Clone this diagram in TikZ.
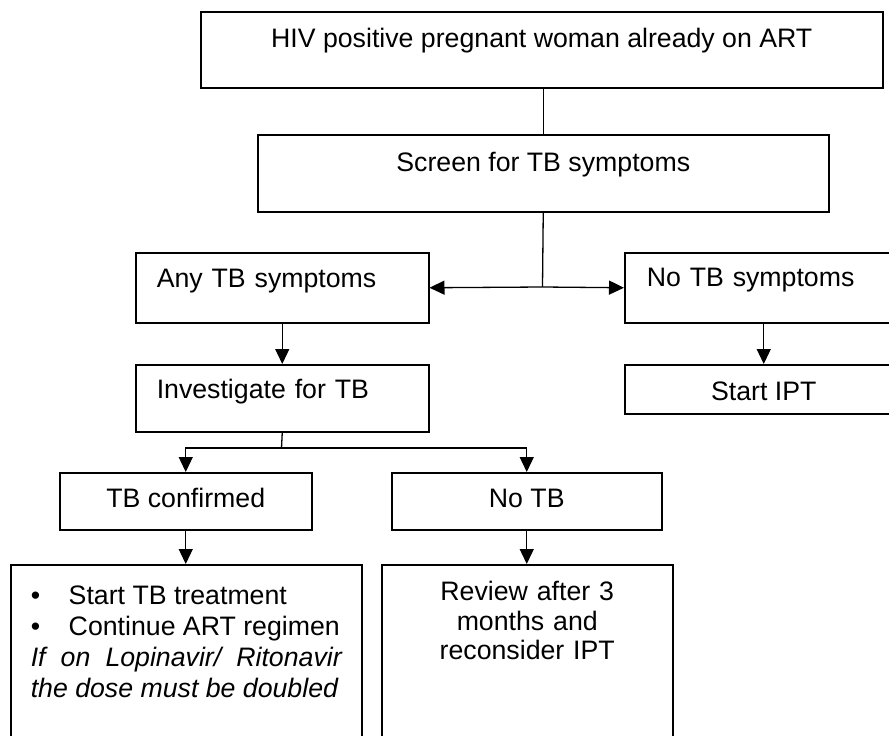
\documentclass[tikz,border=0pt]{standalone}
\usepackage{fontspec}
\setmainfont{Liberation Sans}
\usetikzlibrary{arrows.meta}
\newcommand{\boxfont}{\fontsize{26.7}{31}\selectfont}
\tikzset{
  box/.style={draw, line width=1.5pt, inner sep=0pt, anchor=north west, font=\boxfont},
  link/.style={line width=1.3pt},
  arr/.style={line width=1.3pt, -{Triangle[length=15pt,width=14pt]}},
}
\begin{document}
\begin{tikzpicture}[x=1pt,y=1pt,yscale=-1,xscale=1]
\path[use as bounding box, clip] (0,0) rectangle (889,736);
\node[box, minimum width=682pt, text height=36pt, text depth=40pt] (hiv) at (200,11) {HIV positive pregnant woman already on ART};
\node[box, minimum width=571pt, text height=37pt, text depth=40pt] (screen) at (257,134) {Screen for TB symptoms};
\node[box, text width=251pt, inner xsep=21pt, align=left, text height=35pt, text depth=35pt] (anytb) at (135,252) {Any TB symptoms};
\node[box, text width=234pt, inner xsep=22pt, align=left, text height=34pt, text depth=36pt] (nosymp) at (624,252) {No TB symptoms};
\node[box, text width=251pt, inner xsep=21pt, align=left, text height=34pt, text depth=33pt] (invest) at (135,364) {Investigate for TB};
\node[box, minimum width=278pt, text height=36pt, text depth=13pt] (startipt) at (624,364) {Start IPT};
\node[box, minimum width=252pt, text height=35pt, text depth=22pt] (tbconf) at (59,472) {TB confirmed};
\node[box, minimum width=270pt, text height=35pt, text depth=22pt] (notb) at (391,472) {No TB};
\node[box, text width=311pt, inner xsep=20pt, align=justify, text height=40pt, text depth=160pt] (treat) at (10,564)
  {\makebox[38pt][l]{\textbullet}Start TB treatment\\
   \makebox[38pt][l]{\textbullet}Continue ART regimen\\
   \textit{If on Lopinavir/ Ritonavir the dose must be doubled}};
\node[box, text width=291pt, align=center, text height=36pt, text depth=164pt, font=\fontsize{26.7}{29.5}\selectfont] (review) at (381,564)
  {Review after 3\\ months and\\ reconsider IPT};
\coordinate (split) at (542.5,287);
\coordinate (branch) at (281.5,448);
\draw[link] (screen.north) -- (screen.north |- hiv.south);
\draw[link] (screen.south) -- (split);
\draw[arr] (split) -- (anytb.east);
\draw[arr] (split) -- (nosymp.west);
\draw[arr] (anytb.south) -- (invest.north);
\draw[arr] (nosymp.south) -- (startipt.north);
\draw[link] (invest.south) -- (branch);
\draw[arr] (branch) -| (tbconf.north);
\draw[arr] (branch) -| (notb.north);
\draw[arr] (tbconf.south) -- (tbconf.south |- treat.north);
\draw[arr] (notb.south) -- (notb.south |- review.north);
\end{tikzpicture}
\end{document}
